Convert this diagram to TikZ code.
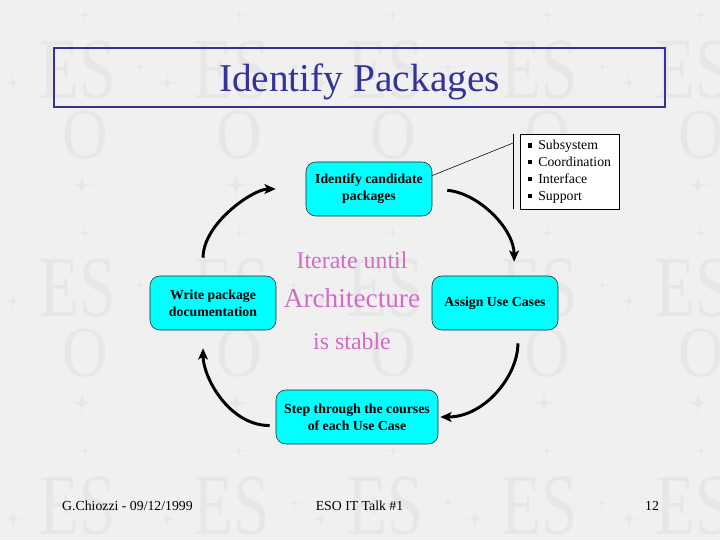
\documentclass[tikz,border=0pt]{standalone}
\usepackage{fontspec}
\setmainfont{Liberation Serif}
\usetikzlibrary{arrows.meta,calc}
\definecolor{slidebg}{RGB}{240,240,240}
\definecolor{wmgray}{RGB}{231,231,231}
\definecolor{titleblue}{RGB}{51,51,153}
\definecolor{pinkish}{RGB}{211,107,198}
\definecolor{boxcyan}{RGB}{0,255,255}
\newcommand{\sqb}{\rule[0.3ex]{0.3em}{0.3em}\hspace{0.45em}}
\begin{document}
\begin{tikzpicture}[x=0.025cm,y=-0.025cm,
  box/.style={draw=black!85,fill=boxcyan,rounded corners=7pt,minimum width=3.15cm,minimum height=1.35cm,align=center,inner sep=2pt,font=\fontsize{9.8}{12}\selectfont\bfseries},
  listbox/.style={draw,fill=white,minimum width=2.475cm,minimum height=1.875cm,align=left,inner sep=2pt,font=\fontsize{9.8}{12}\selectfont},
  flow/.style={line width=2.1pt,-{Stealth[length=8pt,width=7pt,inset=2pt]}},
  pinktext/.style={text=pinkish,inner sep=0pt,anchor=base},
  foot/.style={inner sep=0pt,anchor=base,font=\fontsize{9.8}{12}\selectfont},
  wmstar/.pic={\fill[wmgray] (0,-1) .. controls (0,0) .. (1,0) .. controls (0,0) .. (0,1) .. controls (0,0) .. (-1,0) .. controls (0,0) .. cycle;}]
\useasboundingbox (0,0) rectangle (720,540);
\fill[slidebg] (0,0) rectangle (720,540);
\begin{scope}
\clip (0,0) rectangle (720,540);
\foreach \i in {-1,...,4}{
  \foreach \j in {-1,...,2}{
    \begin{scope}[shift={(40+154*\i,40+218*\j)}]
      \node[text=wmgray,inner sep=0pt] (es\i\j) at (38,30) {\fontsize{62}{62}\selectfont\scalebox{0.75}[1]{ES}};
      \node[text=wmgray,inner sep=0pt] (o\i\j) at (45,95) {\fontsize{51}{51}\selectfont\scalebox{0.88}[1]{O}};
      \pic[scale=13] at (-27,43) {wmstar};
      \pic[scale=9] at (100,27) {wmstar};
      \pic[scale=9] at (45,-25) {wmstar};
      \pic[scale=18] at (42,145) {wmstar};
    \end{scope}
  }
}
\end{scope}
\node[draw=titleblue,line width=1.8pt,minimum width=15.275cm,minimum height=1.475cm,text depth=0pt,text=titleblue,font=\fontsize{28}{30}\selectfont] (title) at (359.5,77.5) {Identify Packages};
\node[box] (ident) at (369,189) {Identify candidate\\packages};
\node[box] (write) at (213,303) {Write package\\documentation};
\node[box] (assign) at (495,303) {Assign Use Cases};
\node[box,minimum width=4.05cm] (steps) at (357,417) {Step through the courses\\of each Use Case};
\node[listbox] (list) at (569.5,171.5) {\sqb Subsystem\\\sqb Coordination\\\sqb Interface\\\sqb Support};
\coordinate (barN) at ($(list.north west)+(-6,0)$);
\coordinate (barS) at ($(list.south west)+(-6,0)$);
\draw (barN) -- (barS);
\draw (ident.12) -- ($(barN)!0.12!(barS)$);
\node[pinktext,font=\fontsize{17}{20}\selectfont] (iter) at (352,268) {Iterate until};
\node[pinktext,font=\fontsize{19.4}{22}\selectfont] (arch) at (352,307) {Architecture};
\node[pinktext,font=\fontsize{17}{20}\selectfont] (stable) at (352,349) {is stable};
\draw[flow,shorten <=0.45cm,shorten >=0.75cm] (write.110) to[out=90,in=180] (ident.west);
\draw[flow,shorten <=0.375cm,shorten >=0.35cm] (ident.east) to[out=-5,in=90] (assign.55);
\draw[flow,shorten <=0.325cm,shorten >=0.05cm] (assign.-50) to[out=-90,in=0] (steps.east);
\draw[flow,shorten <=0.15cm,shorten >=0.45cm] (steps.186) to[out=180,in=-90] (write.250);
\node[foot] (author) at (127.5,510) {G.Chiozzi - 09/12/1999};
\node[foot] (talk) at (359.5,510) {ESO IT Talk \#1};
\node[foot] (page) at (652,510) {12};
\end{tikzpicture}
\end{document}
